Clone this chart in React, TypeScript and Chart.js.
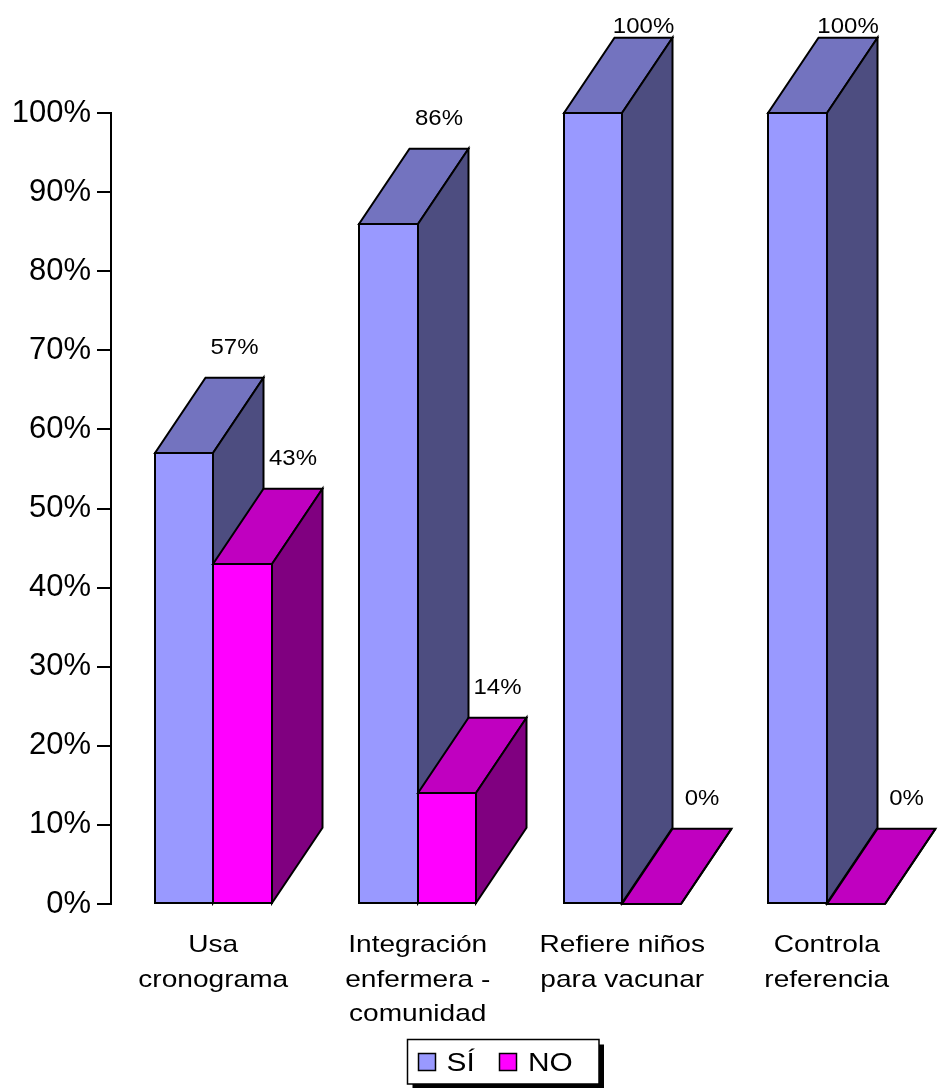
import { useEffect, useRef } from 'react';
import { Chart, registerables } from 'chart.js';

Chart.register(...registerables);

// Chart content
const categories: string[][] = [
  ['Usa', 'cronograma'],
  ['Integración', 'enfermera -', 'comunidad'],
  ['Refiere niños', 'para vacunar'],
  ['Controla', 'referencia'],
];
const seriesNames = ['SÍ', 'NO'];
const siValues = [57, 86, 100, 100];
const noValues = [43, 14, 0, 0];

const FONT = "'Liberation Sans', Arial, Helvetica, sans-serif";

// front / top / side shades of each series
const palette = [
  { front: '#9999FF', top: '#7373BF', side: '#4D4D80' },
  { front: '#FF00FF', top: '#C000C0', side: '#800080' },
];

// oblique extrusion of the 3D bars
const DEPTH_X = 50.5;
const DEPTH_Y = -75.3;

type Pt = [number, number];

function poly(ctx: CanvasRenderingContext2D, pts: Pt[], fill: string) {
  ctx.beginPath();
  ctx.moveTo(pts[0][0], pts[0][1]);
  for (let k = 1; k < pts.length; k++) ctx.lineTo(pts[k][0], pts[k][1]);
  ctx.closePath();
  ctx.fillStyle = fill;
  ctx.fill();
  ctx.stroke();
}

// text with a slight horizontal stretch
function wideText(
  ctx: CanvasRenderingContext2D,
  text: string,
  x: number,
  baseline: number,
  size: number,
  stretch: number,
  align: CanvasTextAlign = 'center'
) {
  ctx.save();
  ctx.translate(x, baseline);
  ctx.scale(stretch, 1);
  ctx.font = `${size}px ${FONT}`;
  ctx.fillStyle = '#000';
  ctx.textAlign = align;
  ctx.textBaseline = 'alphabetic';
  ctx.fillText(text, 0, 0);
  ctx.restore();
}

const bars3d = {
  id: 'bars3d',
  beforeDatasetsDraw(chart: any) {
    const ctx: CanvasRenderingContext2D = chart.ctx;
    const n = chart.data.labels.length;
    ctx.save();
    ctx.lineWidth = 2;
    ctx.strokeStyle = '#000';
    ctx.lineJoin = 'miter';
    const tops: { x: number; y: number; v: number }[] = [];
    for (let i = 0; i < n; i++) {
      chart.data.datasets.forEach((ds: any, d: number) => {
        const el = chart.getDatasetMeta(d).data[i];
        const { x, y, base, width } = el.getProps(['x', 'y', 'base', 'width'], true);
        const l = Math.round(x - width / 2);
        const r = Math.round(x + width / 2);
        const t = Math.round(Math.min(y, base));
        const b = Math.round(Math.max(y, base));
        const c = palette[d];
        poly(ctx, [[l, t], [r, t], [r, b], [l, b]], c.front);
        poly(ctx, [[l, t], [r, t], [r + DEPTH_X, t + DEPTH_Y], [l + DEPTH_X, t + DEPTH_Y]], c.top);
        poly(ctx, [[r, t], [r + DEPTH_X, t + DEPTH_Y], [r + DEPTH_X, b + DEPTH_Y], [r, b]], c.side);
        tops.push({ x: x + DEPTH_X, y: t + DEPTH_Y, v: ds.data[i] });
      });
    }
    // value labels above the back edge of each bar
    tops.forEach((p) => {
      const cy = Math.max(p.y - 32, 25);
      wideText(ctx, `${p.v}%`, p.x, cy + 8, 22, 1.09);
    });
    ctx.restore();
    return false;
  },
  afterDraw(chart: any) {
    const ctx: CanvasRenderingContext2D = chart.ctx;
    const xs = chart.scales.x;
    const bottom = chart.chartArea.bottom;
    // category labels
    chart.data.labels.forEach((lines: string[], i: number) => {
      const cx = xs.getPixelForValue(i);
      lines.forEach((line, k) => wideText(ctx, line, cx, bottom + 48 + k * 34.5, 24, 1.17));
    });

    // legend box with drop shadow
    const bx = 407.5, by = 1039.5, bw = 191.5, bh = 44.5;
    ctx.save();
    ctx.fillStyle = '#000';
    ctx.fillRect(bx + 5, by + 5, bw, bh);
    ctx.fillStyle = '#fff';
    ctx.fillRect(bx, by, bw, bh);
    ctx.lineWidth = 1.5;
    ctx.strokeStyle = '#000';
    ctx.strokeRect(bx, by, bw, bh);
    const items = [
      { sx: 418.5, tx: 446.5 },
      { sx: 499.5, tx: 528 },
    ];
    chart.data.datasets.forEach((ds: any, d: number) => {
      const it = items[d];
      ctx.fillStyle = ds.backgroundColor;
      ctx.fillRect(it.sx, 1053.5, 17, 17);
      ctx.strokeRect(it.sx, 1053.5, 17, 17);
      wideText(ctx, ds.label, it.tx, 1071.3, 25.5, 1.17, 'left');
    });
    ctx.restore();
  },
};

export default function App() {
  const canvasRef = useRef<HTMLCanvasElement | null>(null);

  useEffect(() => {
    if (!canvasRef.current) return;
    const chart = new Chart(canvasRef.current, {
      type: 'bar',
      data: {
        labels: categories as any,
        datasets: [
          {
            label: seriesNames[0],
            data: siValues,
            backgroundColor: palette[0].front,
            categoryPercentage: 4 / 7,
            barPercentage: 1,
          },
          {
            label: seriesNames[1],
            data: noValues,
            backgroundColor: palette[1].front,
            categoryPercentage: 4 / 7,
            barPercentage: 1,
          },
        ],
      },
      options: {
        responsive: false,
        maintainAspectRatio: false,
        devicePixelRatio: 1,
        animation: false,
        layout: { padding: { top: 113, right: 18, bottom: 184, left: 0 } },
        plugins: {
          legend: { display: false },
          tooltip: { enabled: false },
        },
        scales: {
          x: { display: false },
          y: {
            min: 0,
            max: 100,
            ticks: {
              stepSize: 10,
              padding: 6,
              color: '#000',
              font: { family: FONT, size: 31 },
              callback: (v: any) => `${v}%`,
            },
            grid: {
              drawOnChartArea: false,
              drawTicks: true,
              tickLength: 14,
              color: '#000',
              lineWidth: 2,
            },
            border: { display: true, color: '#000', width: 2 },
            afterFit: (scale: any) => {
              scale.width = 111;
            },
          },
        },
      },
      plugins: [bars3d],
    });
    return () => chart.destroy();
  }, []);

  return (
    <div style={{ position: 'fixed', left: 0, top: 0, width: 947, height: 1088, background: '#fff' }}>
      <canvas ref={canvasRef} width={947} height={1088} style={{ display: 'block' }} />
    </div>
  );
}
